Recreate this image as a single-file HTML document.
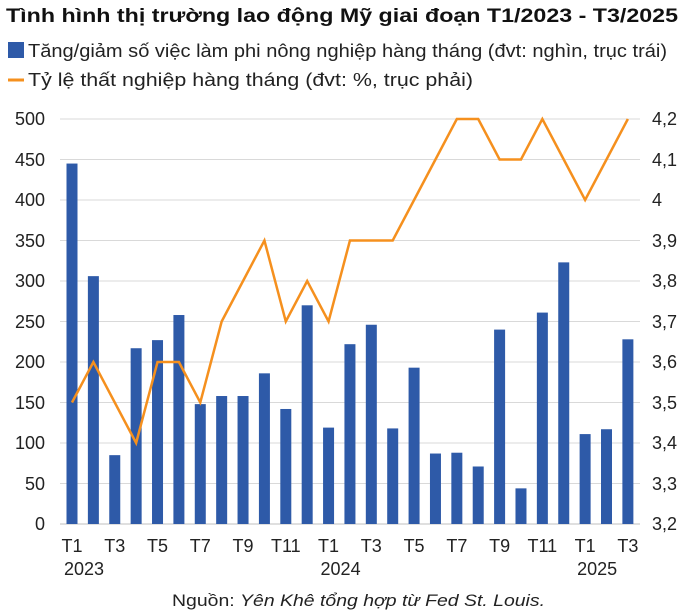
<!DOCTYPE html>
<html><head><meta charset="utf-8"><style>
body{margin:0;background:#fff;}
svg{display:block;font-family:"Liberation Sans",sans-serif;}
</style></head><body>
<svg width="700" height="615" viewBox="0 0 700 615" xmlns="http://www.w3.org/2000/svg">
<text x="6" y="22" font-size="19" font-weight="bold" fill="#111" textLength="672" lengthAdjust="spacingAndGlyphs">Tình hình thị trường lao động Mỹ giai đoạn T1/2023 - T3/2025</text>
<rect x="8" y="42" width="16" height="16" fill="#2e5aa8"/>
<text x="28" y="57" font-size="18" fill="#222" textLength="639" lengthAdjust="spacingAndGlyphs">Tăng/giảm số việc làm phi nông nghiệp hàng tháng (đvt: nghìn, trục trái)</text>
<line x1="8" y1="80" x2="24" y2="80" stroke="#f5901e" stroke-width="3"/>
<text x="28" y="86" font-size="18" fill="#222" textLength="445" lengthAdjust="spacingAndGlyphs">Tỷ lệ thất nghiệp hàng tháng (đvt: %, trục phải)</text>
<g stroke="#d9d9d9" stroke-width="1">
<line x1="60" y1="119" x2="640" y2="119"/><line x1="60" y1="159.5" x2="640" y2="159.5"/>
<line x1="60" y1="200" x2="640" y2="200"/><line x1="60" y1="240.5" x2="640" y2="240.5"/>
<line x1="60" y1="281" x2="640" y2="281"/><line x1="60" y1="321.5" x2="640" y2="321.5"/>
<line x1="60" y1="362" x2="640" y2="362"/><line x1="60" y1="402.5" x2="640" y2="402.5"/>
<line x1="60" y1="443" x2="640" y2="443"/><line x1="60" y1="483.5" x2="640" y2="483.5"/>
</g>
<line x1="60" y1="524" x2="640" y2="524" stroke="#bfbfbf"/>
<g font-size="18" fill="#222" text-anchor="end">
<text x="45" y="125">500</text><text x="45" y="166">450</text><text x="45" y="206">400</text>
<text x="45" y="247">350</text><text x="45" y="287">300</text><text x="45" y="328">250</text>
<text x="45" y="368">200</text><text x="45" y="409">150</text><text x="45" y="449">100</text>
<text x="45" y="490">50</text><text x="45" y="530">0</text>
</g>
<g font-size="18" fill="#222" text-anchor="start">
<text x="652" y="125">4,2</text><text x="652" y="166">4,1</text><text x="652" y="206">4</text>
<text x="652" y="247">3,9</text><text x="652" y="287">3,8</text><text x="652" y="328">3,7</text>
<text x="652" y="368">3,6</text><text x="652" y="409">3,5</text><text x="652" y="449">3,4</text>
<text x="652" y="490">3,3</text><text x="652" y="530">3,2</text>
</g>
<g id="bars" fill="#2e5aa8"></g>
<polyline id="line" fill="none" stroke="#f5901e" stroke-width="2.5"/>
<g id="xl" font-size="18" fill="#222" text-anchor="middle"></g>
<text x="172" y="606" font-size="17" fill="#222" textLength="373" lengthAdjust="spacingAndGlyphs">Nguồn: <tspan font-style="italic">Yên Khê tổng hợp từ Fed St. Louis.</tspan></text>
<script>
var b=[445,306,85,217,227,258,148,158,158,186,142,270,119,222,246,118,193,87,88,71,240,44,261,323,111,117,228];
var u=[3.5,3.6,3.5,3.4,3.6,3.6,3.5,3.7,3.8,3.9,3.7,3.8,3.7,3.9,3.9,3.9,4.0,4.1,4.2,4.2,4.1,4.1,4.2,4.1,4.0,4.1,4.2];
var ns="http://www.w3.org/2000/svg",g=document.getElementById('bars'),pts=[];
for(var i=0;i<27;i++){var x=72+i*21.38;
var r=document.createElementNS(ns,'rect');var h=b[i]*0.81;
r.setAttribute('x',x-5.5);r.setAttribute('y',524-h);r.setAttribute('width',11);r.setAttribute('height',h);g.appendChild(r);
pts.push(x+','+(524-(u[i]-3.2)*405));}
document.getElementById('line').setAttribute('points',pts.join(' '));
var xl=document.getElementById('xl');
for(var i=0;i<27;i+=2){var t=document.createElementNS(ns,'text');t.setAttribute('x',72+i*21.38);t.setAttribute('y',552);
var m=i<12?i+1:(i<24?i-11:i-23);t.textContent='T'+m;xl.appendChild(t);}
[[0,'2023'],[12,'2024'],[24,'2025']].forEach(function(p){var t=document.createElementNS(ns,'text');t.setAttribute('x',72+p[0]*21.38+12);t.setAttribute('y',575);t.textContent=p[1];xl.appendChild(t);});
</script>
</svg>
</body></html>
